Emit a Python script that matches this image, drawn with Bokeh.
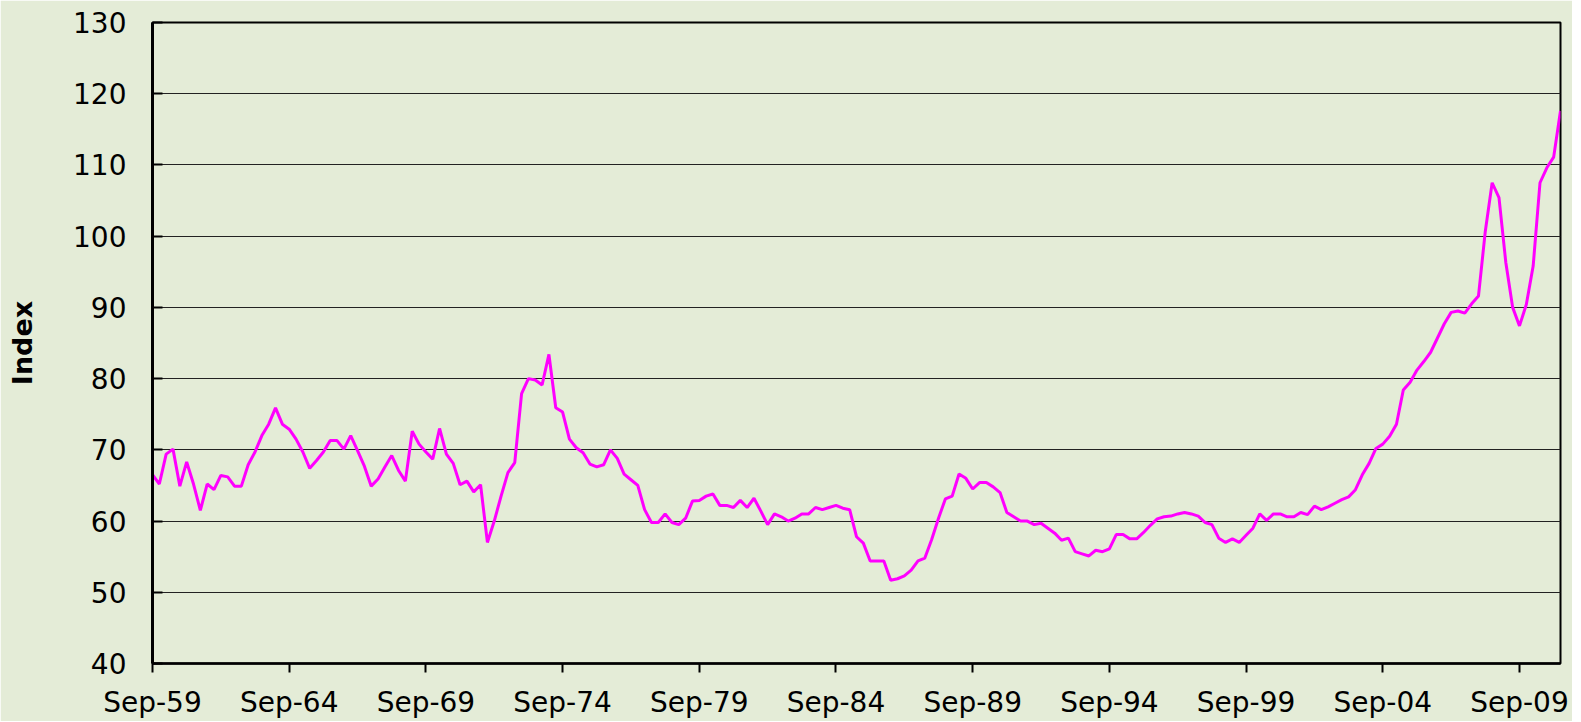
from bokeh.plotting import figure
from bokeh.models import Range1d, FixedTicker, ColumnDataSource
from bokeh.embed import file_html
from bokeh.resources import INLINE

# Quarterly index values, Sep-59 .. Mar-11
index_values = [
    66.5, 65.2, 69.4, 70.1, 64.9, 68.3, 65.2, 61.5, 65.2, 64.4,
    66.4, 66.2, 64.9, 64.9, 67.9, 69.7, 72.0, 73.6, 75.9, 73.6,
    72.9, 71.5, 69.7, 67.4, 68.5, 69.7, 71.3, 71.3, 70.1, 72.0,
    69.9, 67.7, 64.9, 65.9, 67.6, 69.2, 67.1, 65.6, 72.6, 70.8,
    69.7, 68.7, 73.0, 69.4, 68.1, 65.1, 65.6, 64.1, 65.1, 57.0,
    60.0, 63.5, 66.8, 68.2, 77.9, 80.0, 79.8, 79.1, 83.4, 75.9,
    75.3, 71.5, 70.3, 69.6, 68.0, 67.6, 67.9, 70.0, 68.8, 66.6,
    65.8, 65.0, 61.6, 59.8, 59.8, 61.0, 59.8, 59.5, 60.4, 62.8,
    62.9, 63.5, 63.8, 62.2, 62.2, 61.9, 62.9, 61.9, 63.2, 61.4,
    59.5, 61.0, 60.6, 60.0, 60.4, 61.0, 61.0, 61.9, 61.6, 61.9,
    62.2, 61.8, 61.6, 57.8, 56.9, 54.4, 54.4, 54.4, 51.7, 51.9,
    52.3, 53.1, 54.4, 54.8, 57.4, 60.4, 63.1, 63.5, 66.6, 66.0,
    64.5, 65.4, 65.4, 64.8, 64.0, 61.2, 60.6, 60.0, 60.0, 59.5,
    59.7, 59.0, 58.3, 57.3, 57.6, 55.7, 55.4, 55.1, 55.9, 55.7,
    56.1, 58.1, 58.1, 57.5, 57.5, 58.4, 59.4, 60.3, 60.6, 60.7,
    61.0, 61.2, 61.0, 60.7, 59.8, 59.5, 57.6, 57.0, 57.5, 57.0,
    58.0, 59.0, 61.0, 60.1, 61.0, 61.0, 60.6, 60.6, 61.2, 60.9,
    62.1, 61.6, 62.0, 62.5, 63.0, 63.4, 64.4, 66.5, 68.1, 70.2,
    70.8, 71.9, 73.6, 78.4, 79.5, 81.2, 82.4, 83.7, 85.7, 87.7,
    89.3, 89.5, 89.2, 90.5, 91.6, 100.7, 107.5, 105.4, 96.3, 90.0,
    87.4, 90.4, 95.8, 107.5, 109.6, 111.1, 117.6,
]
quarter_pos = list(range(len(index_values)))

tick_labels = ["Sep-59", "Sep-64", "Sep-69", "Sep-74", "Sep-79", "Sep-84",
               "Sep-89", "Sep-94", "Sep-99", "Sep-04", "Sep-09"]
tick_pos = [i * 20 for i in range(len(tick_labels))]
y_ticks = [40, 50, 60, 70, 80, 90, 100, 110, 120, 130]

BG = "#E4ECD7"
FONT = "DejaVu Sans"

p = figure(width=1572, height=721, output_backend="svg", toolbar_location=None,
           x_range=Range1d(0, len(index_values) - 1), y_range=Range1d(40, 130),
           min_border_left=152, min_border_right=12, min_border_top=22,
           min_border_bottom=57)
p.background_fill_color = BG
p.border_fill_color = BG
p.outline_line_color = "black"
p.outline_line_width = 2

src = ColumnDataSource(dict(x=quarter_pos, y=index_values))
p.line("x", "y", source=src, line_color="#FF00FF", line_width=3)

p.xgrid.grid_line_color = None
p.ygrid.grid_line_color = "#222222"
p.ygrid.grid_line_width = 1
p.ygrid.ticker = FixedTicker(ticks=y_ticks)

xa = p.xaxis[0]
xa.ticker = FixedTicker(ticks=tick_pos)
xa.major_label_overrides = {pos: lab for pos, lab in zip(tick_pos, tick_labels)}
xa.axis_line_width = 2.5
xa.axis_line_color = "black"
xa.major_tick_in = 0
xa.major_tick_out = 9
xa.major_tick_line_width = 2
xa.minor_tick_line_color = None
xa.major_label_text_font = FONT
xa.major_label_text_font_size = "28px"
xa.major_label_text_color = "black"
xa.major_label_standoff = 13

ya = p.yaxis[0]
ya.ticker = FixedTicker(ticks=y_ticks)
ya.axis_line_width = 3
ya.axis_line_color = "black"
ya.major_tick_in = 10
ya.major_tick_out = 0
ya.major_tick_line_width = 2
ya.minor_tick_line_color = None
ya.major_label_text_font = FONT
ya.major_label_text_font_size = "28px"
ya.major_label_text_color = "black"
ya.major_label_standoff = 26
ya.axis_label = "Index"
ya.axis_label_text_font = FONT
ya.axis_label_text_font_size = "27px"
ya.axis_label_text_font_style = "bold"
ya.axis_label_text_color = "black"
ya.axis_label_standoff = 32

open("out.html", "w").write(file_html(p, INLINE))
